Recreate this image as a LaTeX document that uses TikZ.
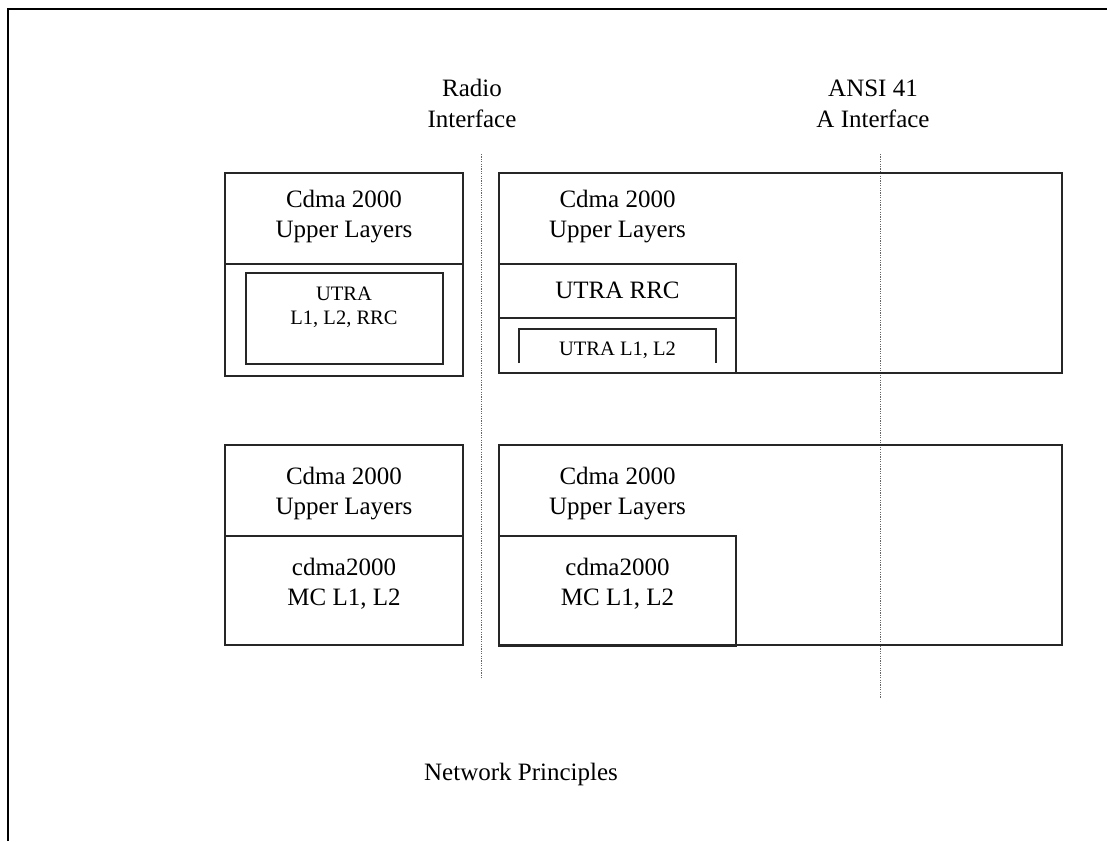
\documentclass[tikz,border=0pt]{standalone}
\usepackage{fontspec}
\setmainfont{Liberation Serif}
\begin{document}
\begin{tikzpicture}[x=1pt,y=-1pt,
  frameline/.style={line width=2pt,black},
  boxline/.style={line width=1.7pt,black!85},
  dotline/.style={line width=1.3pt,black!60,dash pattern=on 1.2pt off 1.2pt},
  lbl/.style={anchor=base,inner sep=0pt,font=\fontsize{25}{30}\selectfont},
  slbl/.style={anchor=base,inner sep=0pt,font=\fontsize{20.5}{24}\selectfont}]
\useasboundingbox (0,0) rectangle (1107,841);
% outer frame (top and left only)
\draw[frameline] (8,841) -- (8,9) -- (1107,9);
% interface labels
\node[lbl] (radio1) at (472,96) {Radio};
\node[lbl] (radio2) at (472,127) {Interface};
\node[lbl] (ansi1) at (873,96) {ANSI 41};
\node[lbl] (ansi2) at (873,127) {A Interface};
% dotted interface lines
\coordinate (rtop) at (481.5,154);
\coordinate (rbot) at (481.5,678);
\coordinate (atop) at (880.5,154);
\coordinate (abot) at (880.5,698);
\draw[dotline] (rtop) -- (rbot);
\draw[dotline] (atop) -- (abot);
% top-left box
\draw[boxline] (225,173) rectangle (463,376);
\draw[boxline] (225,264) -- (463,264);
\draw[boxline] (246,273) rectangle (443,364);
\node[lbl] (tl1) at (344,207) {Cdma 2000};
\node[lbl] (tl2) at (344,237) {Upper Layers};
\node[slbl] (tl3) at (344,300) {UTRA};
\node[slbl] (tl4) at (344,324) {L1, L2, RRC};
% top-right box
\draw[boxline] (499,173) rectangle (1062,373);
\draw[boxline] (499,264) rectangle (736,373);
\draw[boxline] (499,318) -- (736,318);
\draw[boxline] (519,363) -- (519,329) -- (716,329) -- (716,363);
\node[lbl] (tr1) at (617.5,207) {Cdma 2000};
\node[lbl] (tr2) at (617.5,237) {Upper Layers};
\node[lbl] (tr3) at (617.5,298) {UTRA RRC};
\node[slbl] (tr4) at (617.5,355) {UTRA L1, L2};
% bottom-left box
\draw[boxline] (225,445) rectangle (463,645);
\draw[boxline] (225,536) -- (463,536);
\node[lbl] (bl1) at (344,484) {Cdma 2000};
\node[lbl] (bl2) at (344,514) {Upper Layers};
\node[lbl] (bl3) at (344,575) {cdma2000};
\node[lbl] (bl4) at (344,605) {MC L1, L2};
% bottom-right box
\draw[boxline] (499,445) rectangle (1062,645);
\draw[boxline] (499,536) rectangle (736,646);
\node[lbl] (br1) at (617.5,484) {Cdma 2000};
\node[lbl] (br2) at (617.5,514) {Upper Layers};
\node[lbl] (br3) at (617.5,575) {cdma2000};
\node[lbl] (br4) at (617.5,605) {MC L1, L2};
% caption
\node[lbl] (cap) at (521,780) {Network Principles};
\end{tikzpicture}
\end{document}
